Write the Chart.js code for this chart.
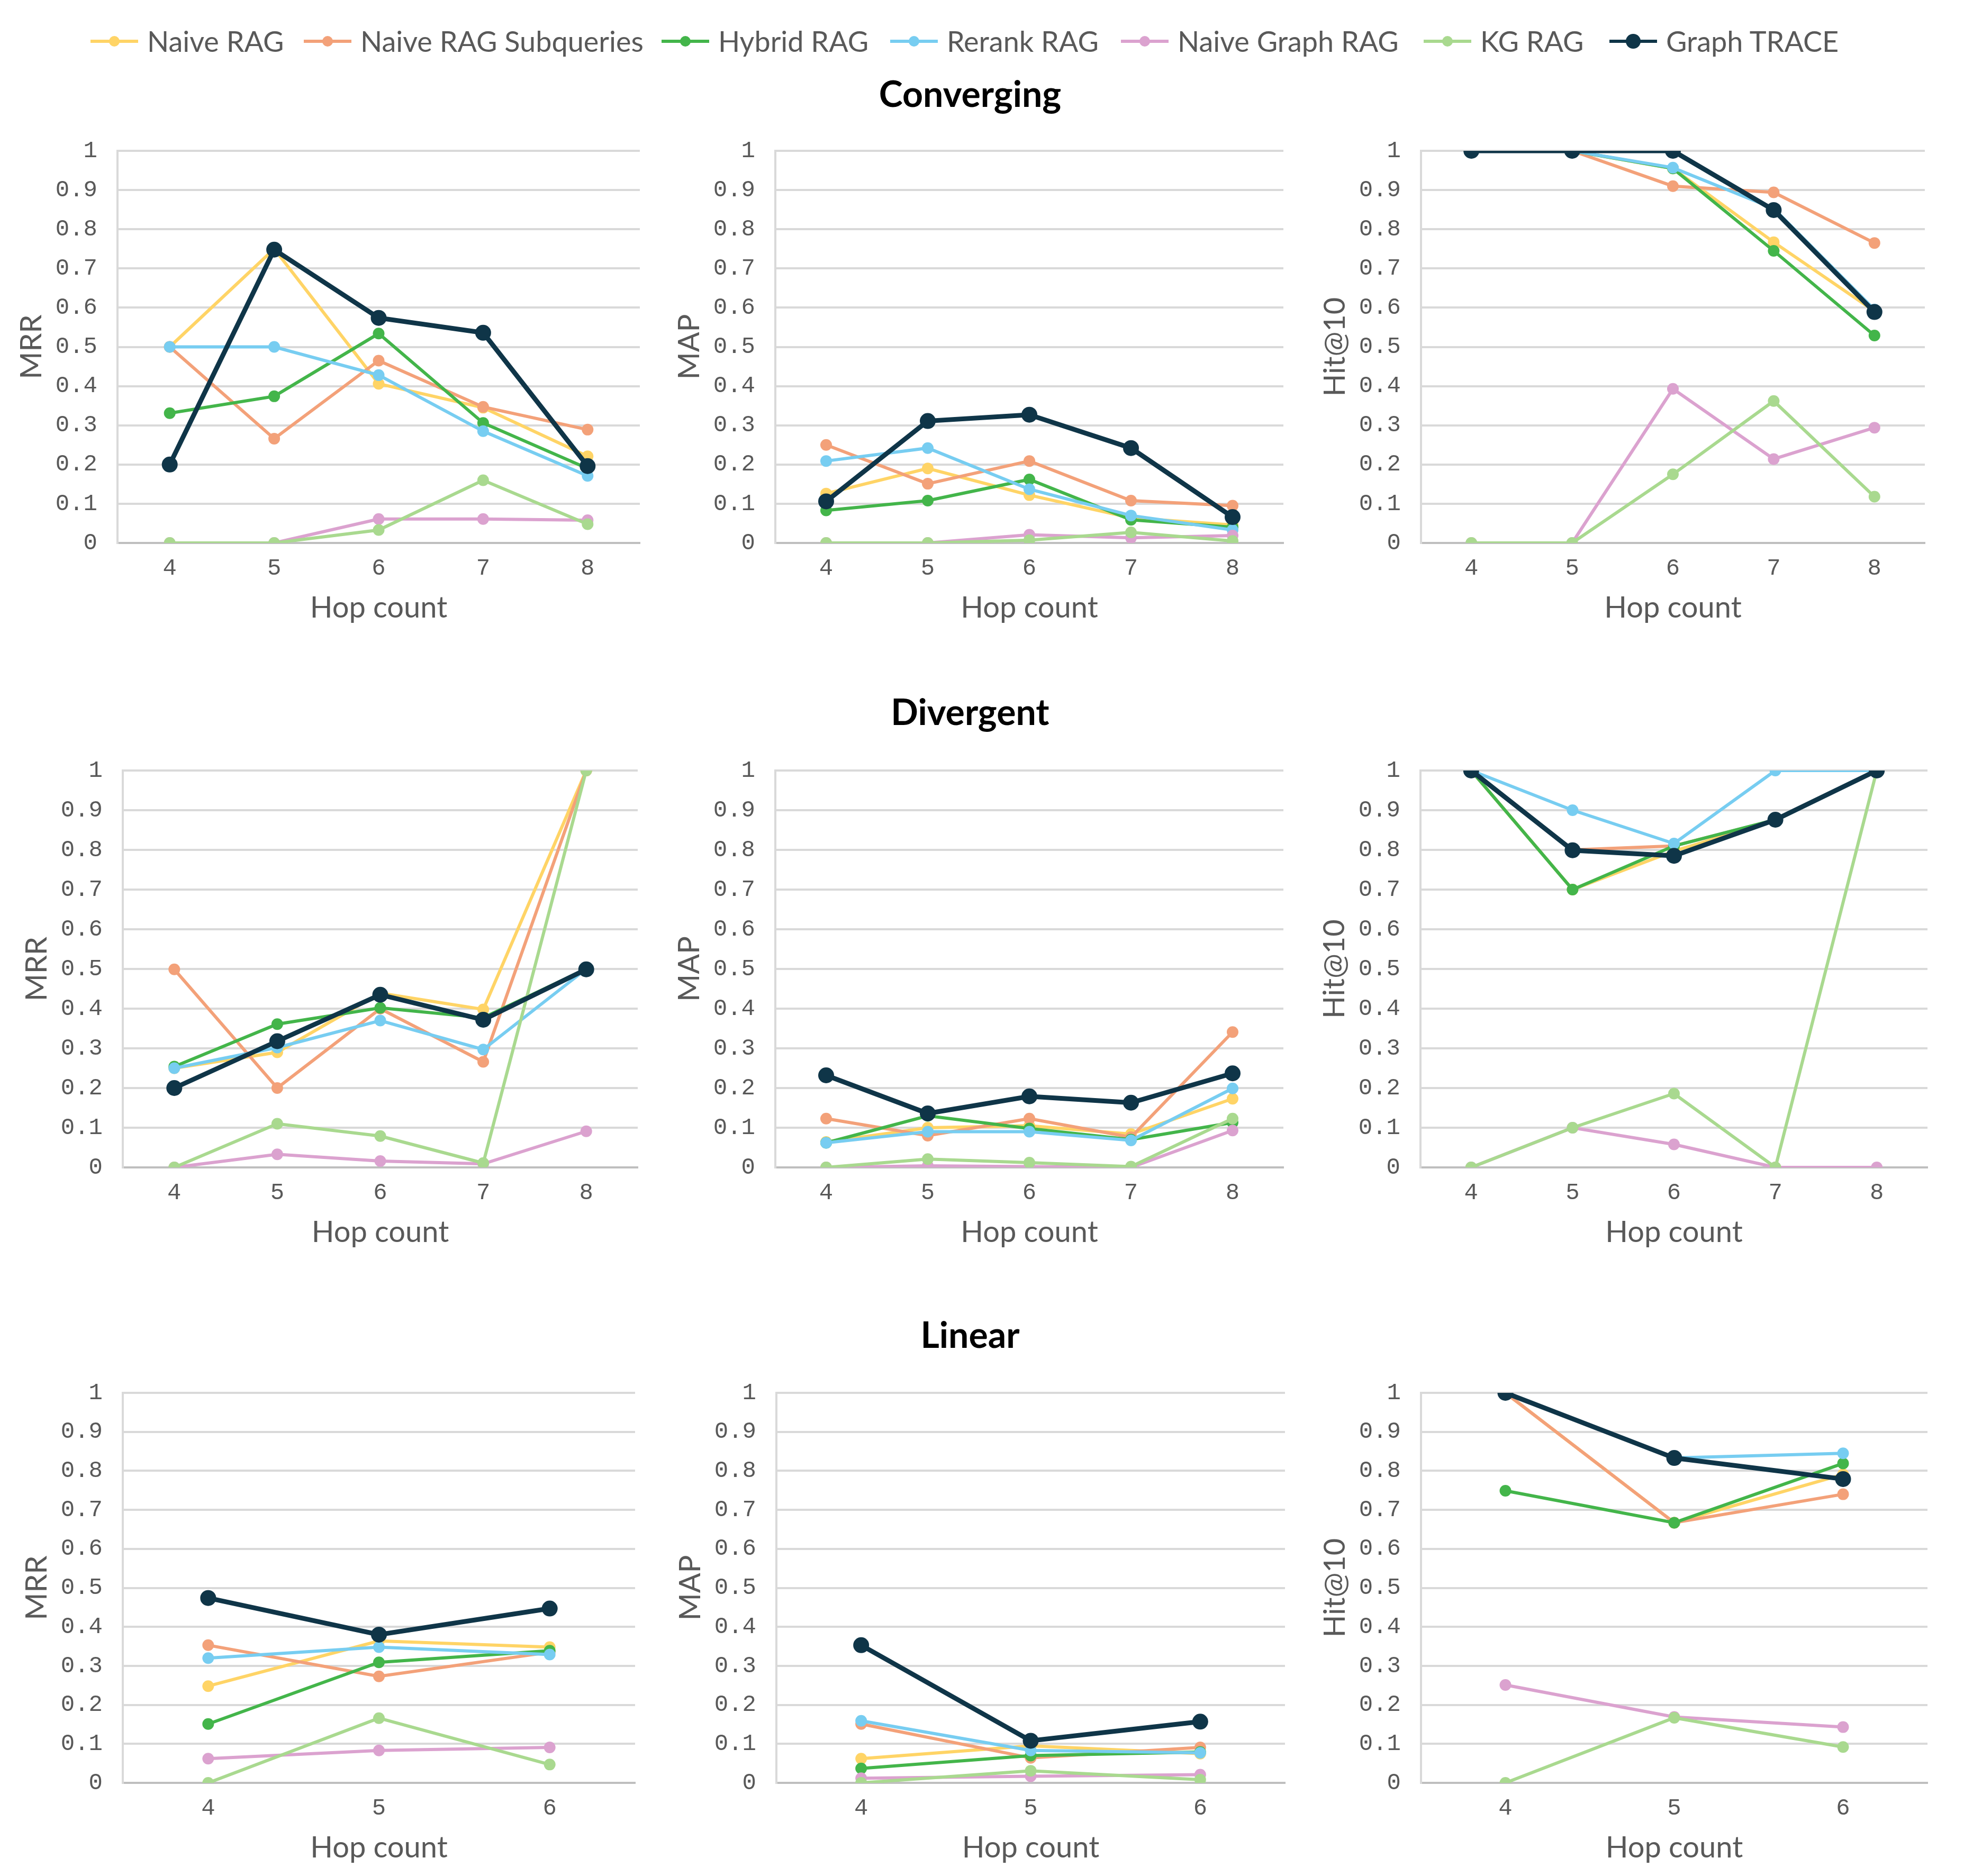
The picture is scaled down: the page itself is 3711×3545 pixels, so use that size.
<!DOCTYPE html>
<html>
<head>
<meta charset="utf-8">
<script src="https://cdn.jsdelivr.net/npm/chart.js@4.4.1/dist/chart.umd.min.js"></script>
<style>
  body { margin: 0; background: #fff; width: 3711px; height: 3545px; position: relative; overflow: hidden; font-family: Lato, sans-serif; }
  .panel { position: absolute; }
  .section { position: absolute; transform: translateX(-50%); font: bold 68px Lato, sans-serif; line-height: 68px; color: #000; white-space: nowrap; }
  .item { position: absolute; top: 46px; display: flex; align-items: center; gap: 17px; font: 54px Lato, sans-serif; line-height: 64px; color: #595959; white-space: nowrap; }
  .mark { position: relative; width: 90px; height: 32px; }
  .mark .ln { position: absolute; left: 0; right: 0; top: 13px; height: 6px; }
  .mark .dt { position: absolute; border-radius: 50%; }
</style>
</head>
<body>

<script>
//////////////// DATA
const seriesNames = ['Naive RAG', 'Naive RAG Subqueries', 'Hybrid RAG', 'Rerank RAG', 'Naive Graph RAG', 'KG RAG', 'Graph TRACE'];
const seriesColors = ['#FFD466', '#F3A179', '#43B54A', '#77CDF1', '#DBA2CF', '#A9D98F', '#0F3548'];

const hopsLong = ['4', '5', '6', '7', '8'];
const hopsShort = ['4', '5', '6'];
const yTickLabels = ['0', '0.1', '0.2', '0.3', '0.4', '0.5', '0.6', '0.7', '0.8', '0.9', '1'];
const sectionTitles = ['Converging', 'Divergent', 'Linear'];
const metricTitles = ['MRR', 'MAP', 'Hit@10'];

// Converging
const convergingMRR = [
  [0.5, 0.75, 0.406, 0.345, 0.221],
  [0.5, 0.266, 0.465, 0.347, 0.289],
  [0.331, 0.374, 0.534, 0.306, 0.19],
  [0.5, 0.5, 0.428, 0.285, 0.171],
  [0, 0, 0.061, 0.061, 0.058],
  [0, 0, 0.033, 0.16, 0.048],
  [0.2, 0.748, 0.574, 0.536, 0.196],
];
const convergingMAP = [
  [0.126, 0.19, 0.122, 0.064, 0.046],
  [0.25, 0.151, 0.209, 0.108, 0.095],
  [0.083, 0.108, 0.162, 0.059, 0.04],
  [0.209, 0.242, 0.137, 0.07, 0.033],
  [0, 0, 0.021, 0.013, 0.019],
  [0, 0, 0.007, 0.027, 0.005],
  [0.106, 0.311, 0.327, 0.242, 0.066],
];
const convergingHit = [
  [1, 1, 0.955, 0.767, 0.591],
  [1, 1, 0.91, 0.894, 0.765],
  [1, 1, 0.955, 0.745, 0.529],
  [1, 1, 0.957, 0.853, 0.595],
  [0, 0, 0.393, 0.214, 0.294],
  [0, 0, 0.175, 0.362, 0.118],
  [1, 1, 1, 0.849, 0.589],
];

// Divergent
const divergentMRR = [
  [0.25, 0.29, 0.439, 0.398, 1],
  [0.499, 0.2, 0.4, 0.266, 1],
  [0.254, 0.361, 0.402, 0.377, 0.5],
  [0.25, 0.302, 0.37, 0.297, 0.5],
  [0, 0.033, 0.016, 0.009, 0.091],
  [0, 0.11, 0.079, 0.011, 1],
  [0.2, 0.318, 0.435, 0.372, 0.499],
];
const divergentMAP = [
  [0.064, 0.1, 0.105, 0.084, 0.173],
  [0.123, 0.08, 0.123, 0.076, 0.341],
  [0.062, 0.13, 0.098, 0.07, 0.113],
  [0.062, 0.09, 0.09, 0.068, 0.199],
  [0, 0.004, 0.002, 0, 0.093],
  [0, 0.021, 0.012, 0.002, 0.123],
  [0.232, 0.136, 0.179, 0.163, 0.237],
];
const divergentHit = [
  [1, 0.7, 0.797, 0.875, 1],
  [1, 0.8, 0.81, 0.875, 1],
  [1, 0.7, 0.81, 0.876, 1],
  [1, 0.9, 0.816, 1, 1],
  [0, 0.1, 0.058, 0, 0],
  [0, 0.1, 0.186, 0, 1],
  [1, 0.799, 0.785, 0.876, 1],
];

// Linear
const linearMRR = [
  [0.248, 0.364, 0.348],
  [0.353, 0.273, 0.335],
  [0.151, 0.309, 0.339],
  [0.32, 0.348, 0.329],
  [0.062, 0.083, 0.091],
  [0, 0.166, 0.047],
  [0.474, 0.38, 0.447],
];
const linearMAP = [
  [0.062, 0.095, 0.075],
  [0.151, 0.064, 0.091],
  [0.037, 0.07, 0.079],
  [0.159, 0.083, 0.077],
  [0.012, 0.017, 0.021],
  [0, 0.031, 0.008],
  [0.353, 0.108, 0.157],
];
const linearHit = [
  [1, 0.667, 0.791],
  [1, 0.667, 0.74],
  [0.749, 0.667, 0.819],
  [1, 0.833, 0.845],
  [0.251, 0.169, 0.143],
  [0, 0.167, 0.092],
  [1, 0.833, 0.779],
];

//////////////// LAYOUT
// plot area edges per row / column
const plotLeft = [[222, 1465, 2685], [232, 1465, 2684], [232, 1467, 2685]];
const plotRight = [[1209, 2425, 3637], [1205, 2425, 3642], [1200, 2428, 3642]];
const rowTop = [285, 1456, 2632];
const rowBottom = [1026, 2206, 3369];
const sectionY = [176, 1344, 2521];
const sectionX = 1833;
const legendX = [171, 574, 1250, 1682, 2118, 2690, 3041];

const Y_W = 220;   // y axis box width
const X_H = 170;   // x axis box height
const PAD_T = 70;  // must exceed label half height + tick padding
const PAD_R = 30;

const tickFont = { family: 'Liberation Mono', size: 44 };
const titleFont = { family: 'Lato', size: 56 };
const textColor = '#595959';

//////////////// LEGEND
seriesNames.forEach((name, i) => {
  const item = document.createElement('div');
  item.className = 'item';
  item.style.left = legendX[i] + 'px';
  const mark = document.createElement('div');
  mark.className = 'mark';
  const ln = document.createElement('div');
  ln.className = 'ln';
  ln.style.background = seriesColors[i];
  const dt = document.createElement('div');
  dt.className = 'dt';
  const r = i === 6 ? 14 : 10;
  dt.style.width = dt.style.height = (2 * r) + 'px';
  dt.style.left = (45 - r) + 'px';
  dt.style.top = (16 - r) + 'px';
  dt.style.background = seriesColors[i];
  mark.appendChild(ln);
  mark.appendChild(dt);
  const label = document.createElement('span');
  label.textContent = name;
  item.appendChild(mark);
  item.appendChild(label);
  document.body.appendChild(item);
});

//////////////// SECTION TITLES
sectionTitles.forEach((t, i) => {
  const el = document.createElement('div');
  el.className = 'section';
  el.textContent = t;
  el.style.left = sectionX + 'px';
  el.style.top = (sectionY[i] - 34) + 'px';
  document.body.appendChild(el);
});

//////////////// PANELS
function drawPanel(col, row, labels, values) {
  const plotL = plotLeft[row][col], plotR = plotRight[row][col];
  const plotT = rowTop[row], plotB = rowBottom[row];
  const w = Y_W + (plotR - plotL) + PAD_R;
  const h = PAD_T + (plotB - plotT) + X_H;

  const cv = document.createElement('canvas');
  cv.className = 'panel';
  cv.width = w;
  cv.height = h;
  cv.style.width = w + 'px';
  cv.style.height = h + 'px';
  cv.style.left = (plotL - Y_W) + 'px';
  cv.style.top = (plotT - PAD_T) + 'px';
  document.body.appendChild(cv);

  const datasets = seriesNames.map((name, i) => ({
    label: name,
    data: values[i],
    borderColor: seriesColors[i],
    backgroundColor: seriesColors[i],
    pointBackgroundColor: seriesColors[i],
    pointBorderWidth: 0,
    borderWidth: i === 6 ? 9 : 6,
    pointRadius: i === 6 ? 15 : 11,
    tension: 0,
    fill: false,
    order: seriesNames.length - 1 - i,
  }));

  new Chart(cv, {
    type: 'line',
    data: { labels: labels, datasets: datasets },
    options: {
      responsive: false,
      animation: false,
      devicePixelRatio: 1,
      layout: { padding: { top: PAD_T, right: PAD_R, left: 0, bottom: 0 } },
      plugins: { legend: { display: false }, tooltip: { enabled: false } },
      scales: {
        x: {
          offset: true,
          grid: { display: false, drawTicks: false },
          border: { color: '#bfbfbf', width: 4 },
          ticks: { padding: 22, color: textColor, font: tickFont },
          title: { display: true, text: 'Hop count', color: textColor, font: titleFont, padding: { top: 0, bottom: 13 } },
          afterFit: (s) => { s.height = X_H; },
        },
        y: {
          min: 0,
          max: 1,
          ticks: {
            stepSize: 0.1,
            padding: 38,
            color: textColor,
            font: tickFont,
            callback: (v, idx) => yTickLabels[idx],
          },
          grid: {
            drawTicks: false,
            lineWidth: 4,
            color: (ctx) => (ctx.tick && ctx.tick.value === 0 ? '#bfbfbf' : '#d9d9d9'),
          },
          border: { color: '#d9d9d9', width: 4 },
          title: { display: true, text: metricTitles[col], color: textColor, font: titleFont, padding: { top: 24, bottom: 0 } },
          afterFit: (s) => { s.width = Y_W; },
        },
      },
    },
  });
}

drawPanel(0, 0, hopsLong, convergingMRR);
drawPanel(1, 0, hopsLong, convergingMAP);
drawPanel(2, 0, hopsLong, convergingHit);
drawPanel(0, 1, hopsLong, divergentMRR);
drawPanel(1, 1, hopsLong, divergentMAP);
drawPanel(2, 1, hopsLong, divergentHit);
drawPanel(0, 2, hopsShort, linearMRR);
drawPanel(1, 2, hopsShort, linearMAP);
drawPanel(2, 2, hopsShort, linearHit);
</script>
</body>
</html>
